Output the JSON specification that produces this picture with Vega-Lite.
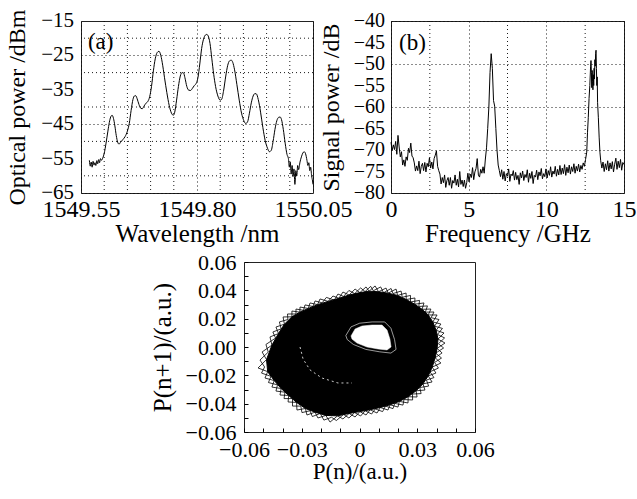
{
"$schema": "https://vega.github.io/schema/vega-lite/v6.json",
"background": "white",
"padding": {"left": 4, "top": 8, "right": 0, "bottom": 0},
"config": {
 "font": "Liberation Serif",
 "view": {"stroke": "#222", "strokeWidth": 1},
 "axis": {"labelFont": "Liberation Serif", "titleFont": "Liberation Serif", "labelColor": "#000", "titleColor": "#000", "titleFontWeight": "normal", "domain": false, "ticks": false, "gridColor": "#000", "gridDash": [1, 3], "gridWidth": 1, "gridOpacity": 0.9, "labelOverlap": false, "labelFlush": false}
},
"datasets": {
 "grid_a_x": [{"g":1549.6},{"g":1549.65},{"g":1549.7},{"g":1549.75},{"g":1549.85},{"g":1549.9},{"g":1549.95},{"g":1550.0}],
 "grid_a_y": [{"g":-60},{"g":-50},{"g":-40},{"g":-30},{"g":-20}],
 "grid_b_x": [{"g":2.5},{"g":7.5},{"g":12.5}],
 "ylab_a": [{"v":-65,"t":"−65"},{"v":-55,"t":"−55"},{"v":-45,"t":"−45"},{"v":-35,"t":"−35"},{"v":-25,"t":"−25"},{"v":-15,"t":"−15"}],
 "ylab_b": [{"v":-80,"t":"−80"},{"v":-75,"t":"−75"},{"v":-70,"t":"−70"},{"v":-65,"t":"−65"},{"v":-60,"t":"−60"},{"v":-55,"t":"−55"},{"v":-50,"t":"−50"},{"v":-45,"t":"−45"},{"v":-40,"t":"−40"}],
 "spec_a": [
  {"wl":1549.568,"p":-55.5},{"wl":1549.570,"p":-57.2},{"wl":1549.572,"p":-56.0},{"wl":1549.574,"p":-57.5},{"wl":1549.576,"p":-55.8},{"wl":1549.578,"p":-56.9},{"wl":1549.580,"p":-56.2},{"wl":1549.582,"p":-57.0},{"wl":1549.584,"p":-55.6},{"wl":1549.586,"p":-56.5},{"wl":1549.588,"p":-55.3},{"wl":1549.590,"p":-56.2},{"wl":1549.592,"p":-55.0},{"wl":1549.594,"p":-55.5},{"wl":1549.597,"p":-54.8},{"wl":1549.600,"p":-53.5},{"wl":1549.604,"p":-50.5},{"wl":1549.608,"p":-47.0},{"wl":1549.611,"p":-44.5},{"wl":1549.614,"p":-42.9},{"wl":1549.617,"p":-42.4},{"wl":1549.620,"p":-43.3},{"wl":1549.623,"p":-45.5},{"wl":1549.626,"p":-48.3},{"wl":1549.629,"p":-50.2},{"wl":1549.632,"p":-50.8},{"wl":1549.635,"p":-50.3},{"wl":1549.640,"p":-49.5},{"wl":1549.645,"p":-48.6},{"wl":1549.650,"p":-47.0},{"wl":1549.654,"p":-44.8},{"wl":1549.658,"p":-41.0},{"wl":1549.662,"p":-37.8},{"wl":1549.665,"p":-36.8},{"wl":1549.668,"p":-36.7},{"wl":1549.671,"p":-37.6},{"wl":1549.675,"p":-39.3},{"wl":1549.679,"p":-40.4},{"wl":1549.682,"p":-40.5},{"wl":1549.686,"p":-39.7},{"wl":1549.690,"p":-38.9},{"wl":1549.694,"p":-38.4},{"wl":1549.698,"p":-37.0},{"wl":1549.702,"p":-34.0},{"wl":1549.706,"p":-29.5},{"wl":1549.710,"p":-26.0},{"wl":1549.714,"p":-24.2},{"wl":1549.718,"p":-23.8},{"wl":1549.721,"p":-24.5},{"wl":1549.725,"p":-27.0},{"wl":1549.730,"p":-31.5},{"wl":1549.735,"p":-35.8},{"wl":1549.740,"p":-39.5},{"wl":1549.745,"p":-41.8},{"wl":1549.749,"p":-42.4},{"wl":1549.752,"p":-41.5},{"wl":1549.756,"p":-38.0},{"wl":1549.760,"p":-34.0},{"wl":1549.764,"p":-31.0},{"wl":1549.768,"p":-30.0},{"wl":1549.771,"p":-30.1},{"wl":1549.774,"p":-31.5},{"wl":1549.778,"p":-34.0},{"wl":1549.782,"p":-35.1},{"wl":1549.786,"p":-35.2},{"wl":1549.790,"p":-34.6},{"wl":1549.794,"p":-33.8},{"wl":1549.798,"p":-33.2},{"wl":1549.802,"p":-31.5},{"wl":1549.806,"p":-27.5},{"wl":1549.810,"p":-23.0},{"wl":1549.814,"p":-20.3},{"wl":1549.818,"p":-19.1},{"wl":1549.821,"p":-18.9},{"wl":1549.824,"p":-19.3},{"wl":1549.828,"p":-21.5},{"wl":1549.832,"p":-26.0},{"wl":1549.836,"p":-30.5},{"wl":1549.840,"p":-34.0},{"wl":1549.845,"p":-36.8},{"wl":1549.850,"p":-38.0},{"wl":1549.853,"p":-37.8},{"wl":1549.857,"p":-35.5},{"wl":1549.862,"p":-31.0},{"wl":1549.866,"p":-28.0},{"wl":1549.870,"p":-26.6},{"wl":1549.874,"p":-26.4},{"wl":1549.877,"p":-27.0},{"wl":1549.881,"p":-29.2},{"wl":1549.886,"p":-33.5},{"wl":1549.891,"p":-38.0},{"wl":1549.896,"p":-41.8},{"wl":1549.901,"p":-44.0},{"wl":1549.905,"p":-44.8},{"wl":1549.909,"p":-44.3},{"wl":1549.913,"p":-41.8},{"wl":1549.917,"p":-38.8},{"wl":1549.921,"p":-36.8},{"wl":1549.925,"p":-36.1},{"wl":1549.928,"p":-36.2},{"wl":1549.932,"p":-37.8},{"wl":1549.937,"p":-41.5},{"wl":1549.942,"p":-46.0},{"wl":1549.947,"p":-49.8},{"wl":1549.952,"p":-52.0},{"wl":1549.956,"p":-53.0},{"wl":1549.960,"p":-52.6},{"wl":1549.964,"p":-50.0},{"wl":1549.968,"p":-46.5},{"wl":1549.972,"p":-44.0},{"wl":1549.976,"p":-43.0},{"wl":1549.979,"p":-42.9},{"wl":1549.982,"p":-43.6},{"wl":1549.986,"p":-46.5},{"wl":1549.990,"p":-50.5},{"wl":1549.994,"p":-53.8},{"wl":1549.997,"p":-55.0},{"wl":1549.999,"p":-57.5},{"wl":1550.001,"p":-56.0},{"wl":1550.003,"p":-59.5},{"wl":1550.005,"p":-57.0},{"wl":1550.007,"p":-60.2},{"wl":1550.009,"p":-58.0},{"wl":1550.011,"p":-62.5},{"wl":1550.013,"p":-58.5},{"wl":1550.015,"p":-60.0},{"wl":1550.017,"p":-57.0},{"wl":1550.019,"p":-58.2},{"wl":1550.022,"p":-56.0},{"wl":1550.025,"p":-54.5},{"wl":1550.028,"p":-53.4},{"wl":1550.031,"p":-53.0},{"wl":1550.034,"p":-53.6},{"wl":1550.037,"p":-55.5},{"wl":1550.039,"p":-57.0},{"wl":1550.041,"p":-56.2},{"wl":1550.043,"p":-58.5},{"wl":1550.045,"p":-57.5},{"wl":1550.047,"p":-60.0},{"wl":1550.049,"p":-61.5},{"wl":1550.050,"p":-62.5}
 ],
 "spec_b": [
  {"f":0.000,"p":-68.2},{"f":0.075,"p":-70.1},{"f":0.150,"p":-68.8},{"f":0.225,"p":-69.9},{"f":0.300,"p":-68.0},{"f":0.375,"p":-71.0},{"f":0.450,"p":-66.6},{"f":0.525,"p":-69.3},{"f":0.600,"p":-71.6},{"f":0.675,"p":-70.4},{"f":0.750,"p":-73.5},{"f":0.825,"p":-72.3},{"f":0.900,"p":-73.8},{"f":0.975,"p":-71.6},{"f":1.050,"p":-72.4},{"f":1.125,"p":-69.6},{"f":1.200,"p":-70.6},{"f":1.275,"p":-68.4},{"f":1.350,"p":-71.4},{"f":1.425,"p":-71.8},{"f":1.500,"p":-73.0},{"f":1.575,"p":-74.9},{"f":1.650,"p":-73.7},{"f":1.725,"p":-74.8},{"f":1.800,"p":-72.6},{"f":1.875,"p":-75.5},{"f":1.950,"p":-73.8},{"f":2.025,"p":-73.1},{"f":2.100,"p":-74.8},{"f":2.175,"p":-72.9},{"f":2.250,"p":-75.1},{"f":2.325,"p":-73.1},{"f":2.400,"p":-73.9},{"f":2.475,"p":-71.8},{"f":2.550,"p":-74.2},{"f":2.625,"p":-72.8},{"f":2.700,"p":-74.4},{"f":2.775,"p":-72.0},{"f":2.850,"p":-71.2},{"f":2.925,"p":-70.2},{"f":3.000,"p":-73.8},{"f":3.075,"p":-74.8},{"f":3.150,"p":-75.6},{"f":3.225,"p":-77.9},{"f":3.300,"p":-76.4},{"f":3.375,"p":-77.6},{"f":3.450,"p":-75.8},{"f":3.525,"p":-78.7},{"f":3.600,"p":-77.1},{"f":3.675,"p":-76.4},{"f":3.750,"p":-78.2},{"f":3.825,"p":-76.4},{"f":3.900,"p":-78.9},{"f":3.975,"p":-77.1},{"f":4.050,"p":-77.7},{"f":4.125,"p":-75.8},{"f":4.200,"p":-78.2},{"f":4.275,"p":-76.8},{"f":4.350,"p":-78.6},{"f":4.425,"p":-75.0},{"f":4.500,"p":-78.0},{"f":4.575,"p":-77.0},{"f":4.650,"p":-78.5},{"f":4.725,"p":-77.0},{"f":4.800,"p":-78.9},{"f":4.875,"p":-77.6},{"f":4.950,"p":-75.4},{"f":5.025,"p":-77.4},{"f":5.100,"p":-75.6},{"f":5.175,"p":-76.4},{"f":5.250,"p":-74.1},{"f":5.325,"p":-76.9},{"f":5.400,"p":-75.1},{"f":5.475,"p":-74.3},{"f":5.550,"p":-72.0},{"f":5.625,"p":-75.8},{"f":5.700,"p":-76.3},{"f":5.775,"p":-74.5},{"f":5.850,"p":-75.4},{"f":5.925,"p":-73.9},{"f":6.000,"p":-75.4},{"f":6.075,"p":-72.1},{"f":6.150,"p":-69.5},{"f":6.225,"p":-65.0},{"f":6.300,"p":-60.0},{"f":6.375,"p":-52.0},{"f":6.450,"p":-47.6},{"f":6.525,"p":-51.0},{"f":6.600,"p":-58.5},{"f":6.675,"p":-59.8},{"f":6.750,"p":-65.0},{"f":6.825,"p":-70.0},{"f":6.900,"p":-73.5},{"f":6.975,"p":-74.8},{"f":7.050,"p":-76.2},{"f":7.125,"p":-74.6},{"f":7.200,"p":-76.8},{"f":7.275,"p":-75.0},{"f":7.350,"p":-77.2},{"f":7.425,"p":-75.5},{"f":7.500,"p":-76.1},{"f":7.575,"p":-74.4},{"f":7.650,"p":-77.3},{"f":7.725,"p":-75.6},{"f":7.800,"p":-76.0},{"f":7.875,"p":-74.8},{"f":7.950,"p":-77.0},{"f":8.025,"p":-75.2},{"f":8.100,"p":-76.9},{"f":8.175,"p":-75.9},{"f":8.250,"p":-78.0},{"f":8.325,"p":-75.3},{"f":8.400,"p":-76.5},{"f":8.475,"p":-74.9},{"f":8.550,"p":-77.1},{"f":8.625,"p":-75.7},{"f":8.700,"p":-76.4},{"f":8.775,"p":-74.6},{"f":8.850,"p":-77.5},{"f":8.925,"p":-75.4},{"f":9.000,"p":-76.6},{"f":9.075,"p":-75.0},{"f":9.150,"p":-77.8},{"f":9.225,"p":-75.9},{"f":9.300,"p":-76.3},{"f":9.375,"p":-74.7},{"f":9.450,"p":-76.9},{"f":9.525,"p":-75.1},{"f":9.600,"p":-76.0},{"f":9.675,"p":-74.3},{"f":9.750,"p":-76.7},{"f":9.825,"p":-75.5},{"f":9.900,"p":-76.2},{"f":9.975,"p":-74.4},{"f":10.050,"p":-76.5},{"f":10.125,"p":-74.8},{"f":10.200,"p":-75.9},{"f":10.275,"p":-73.9},{"f":10.350,"p":-76.3},{"f":10.425,"p":-74.9},{"f":10.500,"p":-75.6},{"f":10.575,"p":-73.8},{"f":10.650,"p":-76.1},{"f":10.725,"p":-74.5},{"f":10.800,"p":-75.8},{"f":10.875,"p":-73.6},{"f":10.950,"p":-75.7},{"f":11.025,"p":-74.2},{"f":11.100,"p":-75.5},{"f":11.175,"p":-73.4},{"f":11.250,"p":-75.9},{"f":11.325,"p":-74.0},{"f":11.400,"p":-75.3},{"f":11.475,"p":-73.5},{"f":11.550,"p":-75.6},{"f":11.625,"p":-73.9},{"f":11.700,"p":-75.0},{"f":11.775,"p":-73.2},{"f":11.850,"p":-75.4},{"f":11.925,"p":-73.8},{"f":12.000,"p":-74.9},{"f":12.075,"p":-73.3},{"f":12.150,"p":-75.1},{"f":12.225,"p":-73.6},{"f":12.300,"p":-74.5},{"f":12.375,"p":-73.0},{"f":12.450,"p":-73.8},{"f":12.525,"p":-72.2},{"f":12.600,"p":-70.5},{"f":12.650,"p":-66.0},{"f":12.700,"p":-62.5},{"f":12.750,"p":-58.0},{"f":12.800,"p":-55.0},{"f":12.850,"p":-50.5},{"f":12.875,"p":-49.2},{"f":12.900,"p":-52.0},{"f":12.925,"p":-55.5},{"f":12.950,"p":-51.5},{"f":12.975,"p":-54.0},{"f":13.000,"p":-56.0},{"f":13.025,"p":-52.5},{"f":13.050,"p":-55.0},{"f":13.075,"p":-51.0},{"f":13.100,"p":-53.5},{"f":13.125,"p":-49.0},{"f":13.150,"p":-50.5},{"f":13.175,"p":-47.5},{"f":13.200,"p":-46.8},{"f":13.225,"p":-51.0},{"f":13.250,"p":-55.0},{"f":13.275,"p":-53.0},{"f":13.300,"p":-59.0},{"f":13.350,"p":-62.5},{"f":13.400,"p":-67.0},{"f":13.450,"p":-70.5},{"f":13.500,"p":-72.5},{"f":13.575,"p":-74.2},{"f":13.650,"p":-72.8},{"f":13.725,"p":-75.0},{"f":13.800,"p":-73.2},{"f":13.875,"p":-74.6},{"f":13.950,"p":-72.5},{"f":14.025,"p":-74.9},{"f":14.100,"p":-73.0},{"f":14.175,"p":-74.4},{"f":14.250,"p":-72.7},{"f":14.325,"p":-75.1},{"f":14.400,"p":-73.3},{"f":14.475,"p":-71.9},{"f":14.550,"p":-74.5},{"f":14.625,"p":-72.6},{"f":14.700,"p":-74.1},{"f":14.775,"p":-72.2},{"f":14.850,"p":-74.7},{"f":14.925,"p":-72.9},{"f":15.000,"p":-73.4}
 ],
 "core": [
  {"k":1,"x":-0.0483,"y":-0.0089},{"k":2,"x":-0.0455,"y":0.0013},{"k":3,"x":-0.0421,"y":0.0095},{"k":4,"x":-0.0390,"y":0.0161},{"k":5,"x":-0.0351,"y":0.0213},{"k":6,"x":-0.0310,"y":0.0246},{"k":7,"x":-0.0266,"y":0.0272},{"k":8,"x":-0.0218,"y":0.0299},{"k":9,"x":-0.0163,"y":0.0322},{"k":10,"x":-0.0107,"y":0.0344},{"k":11,"x":-0.0054,"y":0.0367},{"k":12,"x":0.0002,"y":0.0384},{"k":13,"x":0.0050,"y":0.0394},{"k":14,"x":0.0099,"y":0.0390},{"k":15,"x":0.0149,"y":0.0380},{"k":16,"x":0.0198,"y":0.0364},{"k":17,"x":0.0243,"y":0.0335},{"k":18,"x":0.0287,"y":0.0302},{"k":19,"x":0.0325,"y":0.0266},{"k":20,"x":0.0357,"y":0.0226},{"k":21,"x":0.0381,"y":0.0177},{"k":22,"x":0.0398,"y":0.0118},{"k":23,"x":0.0408,"y":0.0056},{"k":24,"x":0.0403,"y":-0.0010},{"k":25,"x":0.0393,"y":-0.0076},{"k":26,"x":0.0378,"y":-0.0142},{"k":27,"x":0.0357,"y":-0.0204},{"k":28,"x":0.0330,"y":-0.0260},{"k":29,"x":0.0294,"y":-0.0309},{"k":30,"x":0.0253,"y":-0.0351},{"k":31,"x":0.0207,"y":-0.0384},{"k":32,"x":0.0159,"y":-0.0408},{"k":33,"x":0.0108,"y":-0.0427},{"k":34,"x":0.0055,"y":-0.0443},{"k":35,"x":0.0002,"y":-0.0456},{"k":36,"x":-0.0054,"y":-0.0469},{"k":37,"x":-0.0114,"y":-0.0486},{"k":38,"x":-0.0175,"y":-0.0483},{"k":39,"x":-0.0231,"y":-0.0460},{"k":40,"x":-0.0281,"y":-0.0434},{"k":41,"x":-0.0327,"y":-0.0391},{"k":42,"x":-0.0368,"y":-0.0342},{"k":43,"x":-0.0407,"y":-0.0293},{"k":44,"x":-0.0443,"y":-0.0237},{"k":45,"x":-0.0477,"y":-0.0174}
 ],
 "zig": [
  {"k":0,"x":-0.0527,"y":-0.0148},{"k":1,"x":-0.0483,"y":-0.0089},{"k":2,"x":-0.0506,"y":-0.0035},{"k":3,"x":-0.0455,"y":0.0013},{"k":4,"x":-0.0465,"y":0.0071},{"k":5,"x":-0.0421,"y":0.0095},{"k":6,"x":-0.0434,"y":0.0141},{"k":7,"x":-0.0390,"y":0.0161},{"k":8,"x":-0.0397,"y":0.0212},{"k":9,"x":-0.0351,"y":0.0213},{"k":10,"x":-0.0351,"y":0.0254},{"k":11,"x":-0.0310,"y":0.0246},{"k":12,"x":-0.0309,"y":0.0282},{"k":13,"x":-0.0266,"y":0.0272},{"k":14,"x":-0.0257,"y":0.0311},{"k":15,"x":-0.0218,"y":0.0299},{"k":16,"x":-0.0205,"y":0.0339},{"k":17,"x":-0.0163,"y":0.0322},{"k":18,"x":-0.0138,"y":0.0360},{"k":19,"x":-0.0107,"y":0.0344},{"k":20,"x":-0.0086,"y":0.0388},{"k":21,"x":-0.0054,"y":0.0367},{"k":22,"x":-0.0023,"y":0.0409},{"k":23,"x":0.0002,"y":0.0384},{"k":24,"x":0.0034,"y":0.0424},{"k":25,"x":0.0050,"y":0.0394},{"k":26,"x":0.0081,"y":0.0431},{"k":27,"x":0.0099,"y":0.0390},{"k":28,"x":0.0138,"y":0.0416},{"k":29,"x":0.0149,"y":0.0380},{"k":30,"x":0.0190,"y":0.0409},{"k":31,"x":0.0198,"y":0.0364},{"k":32,"x":0.0242,"y":0.0381},{"k":33,"x":0.0243,"y":0.0335},{"k":34,"x":0.0288,"y":0.0346},{"k":35,"x":0.0287,"y":0.0302},{"k":36,"x":0.0335,"y":0.0311},{"k":37,"x":0.0325,"y":0.0266},{"k":38,"x":0.0371,"y":0.0268},{"k":39,"x":0.0357,"y":0.0226},{"k":40,"x":0.0403,"y":0.0226},{"k":41,"x":0.0381,"y":0.0177},{"k":42,"x":0.0423,"y":0.0162},{"k":43,"x":0.0398,"y":0.0118},{"k":44,"x":0.0439,"y":0.0099},{"k":45,"x":0.0408,"y":0.0056},{"k":46,"x":0.0444,"y":0.0028},{"k":47,"x":0.0403,"y":-0.0010},{"k":48,"x":0.0429,"y":-0.0042},{"k":49,"x":0.0393,"y":-0.0076},{"k":50,"x":0.0423,"y":-0.0113},{"k":51,"x":0.0378,"y":-0.0142},{"k":52,"x":0.0397,"y":-0.0184},{"k":53,"x":0.0357,"y":-0.0204},{"k":54,"x":0.0377,"y":-0.0247},{"k":55,"x":0.0330,"y":-0.0260},{"k":56,"x":0.0340,"y":-0.0304},{"k":57,"x":0.0294,"y":-0.0309},{"k":58,"x":0.0299,"y":-0.0353},{"k":59,"x":0.0253,"y":-0.0351},{"k":60,"x":0.0252,"y":-0.0395},{"k":61,"x":0.0207,"y":-0.0384},{"k":62,"x":0.0200,"y":-0.0424},{"k":63,"x":0.0159,"y":-0.0408},{"k":64,"x":0.0148,"y":-0.0445},{"k":65,"x":0.0108,"y":-0.0427},{"k":66,"x":0.0091,"y":-0.0466},{"k":67,"x":0.0055,"y":-0.0443},{"k":68,"x":0.0034,"y":-0.0480},{"k":69,"x":0.0002,"y":-0.0456},{"k":70,"x":-0.0023,"y":-0.0494},{"k":71,"x":-0.0054,"y":-0.0469},{"k":72,"x":-0.0086,"y":-0.0508},{"k":73,"x":-0.0114,"y":-0.0486},{"k":74,"x":-0.0153,"y":-0.0530},{"k":75,"x":-0.0175,"y":-0.0483},{"k":76,"x":-0.0216,"y":-0.0501},{"k":77,"x":-0.0231,"y":-0.0460},{"k":78,"x":-0.0273,"y":-0.0480},{"k":79,"x":-0.0281,"y":-0.0434},{"k":80,"x":-0.0325,"y":-0.0445},{"k":81,"x":-0.0327,"y":-0.0391},{"k":82,"x":-0.0371,"y":-0.0388},{"k":83,"x":-0.0368,"y":-0.0342},{"k":84,"x":-0.0413,"y":-0.0339},{"k":85,"x":-0.0407,"y":-0.0293},{"k":86,"x":-0.0455,"y":-0.0283},{"k":87,"x":-0.0443,"y":-0.0237},{"k":88,"x":-0.0491,"y":-0.0219},{"k":89,"x":-0.0477,"y":-0.0174},{"k":90,"x":-0.0527,"y":-0.0148}
 ],
 "zig2": [
  {"k":0,"x":-0.0517,"y":-0.0092},{"k":1,"x":-0.0474,"y":-0.0036},{"k":2,"x":-0.0486,"y":0.0018},{"k":3,"x":-0.0436,"y":0.0063},{"k":4,"x":-0.0450,"y":0.0106},{"k":5,"x":-0.0407,"y":0.0128},{"k":6,"x":-0.0416,"y":0.0177},{"k":7,"x":-0.0372,"y":0.0194},{"k":8,"x":-0.0374,"y":0.0233},{"k":9,"x":-0.0330,"y":0.0233},{"k":10,"x":-0.0330,"y":0.0268},{"k":11,"x":-0.0291,"y":0.0259},{"k":12,"x":-0.0283,"y":0.0297},{"k":13,"x":-0.0242,"y":0.0286},{"k":14,"x":-0.0231,"y":0.0325},{"k":15,"x":-0.0194,"y":0.0312},{"k":16,"x":-0.0172,"y":0.0350},{"k":17,"x":-0.0131,"y":0.0331},{"k":18,"x":-0.0112,"y":0.0374},{"k":19,"x":-0.0083,"y":0.0357},{"k":20,"x":-0.0055,"y":0.0399},{"k":21,"x":-0.0025,"y":0.0377},{"k":22,"x":0.0006,"y":0.0417},{"k":23,"x":0.0029,"y":0.0391},{"k":24,"x":0.0058,"y":0.0428},{"k":25,"x":0.0072,"y":0.0397},{"k":26,"x":0.0110,"y":0.0424},{"k":27,"x":0.0125,"y":0.0383},{"k":28,"x":0.0164,"y":0.0413},{"k":29,"x":0.0174,"y":0.0377},{"k":30,"x":0.0216,"y":0.0395},{"k":31,"x":0.0222,"y":0.0351},{"k":32,"x":0.0265,"y":0.0364},{"k":33,"x":0.0265,"y":0.0318},{"k":34,"x":0.0312,"y":0.0329},{"k":35,"x":0.0308,"y":0.0286},{"k":36,"x":0.0353,"y":0.0290},{"k":37,"x":0.0342,"y":0.0246},{"k":38,"x":0.0387,"y":0.0247},{"k":39,"x":0.0372,"y":0.0207},{"k":40,"x":0.0413,"y":0.0194},{"k":41,"x":0.0390,"y":0.0147},{"k":42,"x":0.0431,"y":0.0131},{"k":43,"x":0.0405,"y":0.0089},{"k":44,"x":0.0442,"y":0.0064},{"k":45,"x":0.0410,"y":0.0023},{"k":46,"x":0.0437,"y":-0.0007},{"k":47,"x":0.0396,"y":-0.0043},{"k":48,"x":0.0426,"y":-0.0078},{"k":49,"x":0.0390,"y":-0.0109},{"k":50,"x":0.0410,"y":-0.0149},{"k":51,"x":0.0366,"y":-0.0175},{"k":52,"x":0.0387,"y":-0.0216},{"k":53,"x":0.0348,"y":-0.0233},{"k":54,"x":0.0359,"y":-0.0276},{"k":55,"x":0.0313,"y":-0.0286},{"k":56,"x":0.0320,"y":-0.0329},{"k":57,"x":0.0275,"y":-0.0332},{"k":58,"x":0.0276,"y":-0.0374},{"k":59,"x":0.0231,"y":-0.0371},{"k":60,"x":0.0226,"y":-0.0410},{"k":61,"x":0.0183,"y":-0.0398},{"k":62,"x":0.0174,"y":-0.0435},{"k":63,"x":0.0135,"y":-0.0417},{"k":64,"x":0.0120,"y":-0.0456},{"k":65,"x":0.0082,"y":-0.0437},{"k":66,"x":0.0063,"y":-0.0473},{"k":67,"x":0.0029,"y":-0.0450},{"k":68,"x":0.0006,"y":-0.0487},{"k":69,"x":-0.0025,"y":-0.0463},{"k":70,"x":-0.0055,"y":-0.0501},{"k":71,"x":-0.0083,"y":-0.0476},{"k":72,"x":-0.0120,"y":-0.0519},{"k":73,"x":-0.0145,"y":-0.0496},{"k":74,"x":-0.0185,"y":-0.0516},{"k":75,"x":-0.0204,"y":-0.0469},{"k":76,"x":-0.0245,"y":-0.0491},{"k":77,"x":-0.0257,"y":-0.0450},{"k":78,"x":-0.0299,"y":-0.0463},{"k":79,"x":-0.0305,"y":-0.0417},{"k":80,"x":-0.0348,"y":-0.0417},{"k":81,"x":-0.0348,"y":-0.0364},{"k":82,"x":-0.0392,"y":-0.0364},{"k":83,"x":-0.0387,"y":-0.0319},{"k":84,"x":-0.0434,"y":-0.0311},{"k":85,"x":-0.0426,"y":-0.0267},{"k":86,"x":-0.0473,"y":-0.0251},{"k":87,"x":-0.0460,"y":-0.0207},{"k":88,"x":-0.0509,"y":-0.0184},{"k":89,"x":-0.0493,"y":-0.0141},{"k":90,"x":-0.0517,"y":-0.0092}
 ],
 "hole": [
  {"k":1,"x":-0.0044,"y":0.0078},{"k":2,"x":-0.0023,"y":0.0127},{"k":3,"x":0.0013,"y":0.0148},{"k":4,"x":0.0065,"y":0.0155},{"k":5,"x":0.0117,"y":0.0155},{"k":6,"x":0.0143,"y":0.0120},{"k":7,"x":0.0158,"y":0.0056},{"k":8,"x":0.0164,"y":0.0000},{"k":9,"x":0.0143,"y":-0.0021},{"k":10,"x":0.0096,"y":-0.0014},{"k":11,"x":0.0039,"y":0.0000},{"k":12,"x":-0.0013,"y":0.0028},{"k":13,"x":-0.0039,"y":0.0056}
 ],
 "ring": [
  {"k":1,"x":-0.0071,"y":0.0081},{"k":2,"x":-0.0044,"y":0.0142},{"k":3,"x":0.0001,"y":0.0168},{"k":4,"x":0.0066,"y":0.0177},{"k":5,"x":0.0131,"y":0.0177},{"k":6,"x":0.0163,"y":0.0133},{"k":7,"x":0.0182,"y":0.0053},{"k":8,"x":0.0190,"y":-0.0017},{"k":9,"x":0.0163,"y":-0.0043},{"k":10,"x":0.0105,"y":-0.0034},{"k":11,"x":0.0033,"y":-0.0017},{"k":12,"x":-0.0032,"y":0.0018},{"k":13,"x":-0.0064,"y":0.0053}
 ],
 "arc": [
  {"k":1,"x":-0.0309,"y":0.0000},{"k":2,"x":-0.0293,"y":-0.0085},{"k":3,"x":-0.0257,"y":-0.0162},{"k":4,"x":-0.0195,"y":-0.0219},{"k":5,"x":-0.0112,"y":-0.0254},{"k":6,"x":-0.0039,"y":-0.0254}
 ]
},
"spacing": 3,
"vconcat": [
 {
  "spacing": 78,
  "bounds": "flush",
  "hconcat": [
   {
    "width": 232, "height": 172,
    "layer": [
     {
      "data": {"name": "grid_a_x"},
      "mark": {"type": "rule", "color": "#000", "strokeWidth": 1, "strokeDash": [1, 3], "opacity": 0.9},
      "encoding": {"x": {"field": "g", "type": "quantitative"}}
     },
     {
      "data": {"name": "grid_a_y"},
      "mark": {"type": "rule", "color": "#000", "strokeWidth": 1, "strokeDash": [1, 3], "opacity": 0.9},
      "encoding": {"y": {"field": "g", "type": "quantitative"}}
     },
     {
      "data": {"name": "spec_a"},
      "mark": {"type": "line", "color": "#000", "strokeWidth": 1, "interpolate": "monotone"},
      "encoding": {
       "x": {"field": "wl", "type": "quantitative", "scale": {"domain": [1549.55, 1550.05], "nice": false, "zero": false},
        "axis": {"title": "Wavelength /nm", "values": [1549.55, 1549.8, 1550.05], "format": ".2f", "grid": true, "labelOverlap": false, "labelFontSize": 24, "titleFontSize": 25, "labelPadding": 4, "titlePadding": 0}},
       "y": {"field": "p", "type": "quantitative", "scale": {"domain": [-65, -15], "nice": false, "zero": false},
        "axis": {"title": "Optical power /dBm", "values": [-65, -55, -45, -35, -25, -15], "grid": true, "labels": false, "titleFontSize": 24, "titlePadding": 52}}
      }
     },
     {
      "data": {"name": "ylab_a"},
      "mark": {"type": "text", "align": "right", "baseline": "middle", "dx": -7, "fontSize": 21, "font": "Liberation Serif", "color": "#000"},
      "encoding": {"x": {"datum": 1549.55, "type": "quantitative"}, "y": {"field": "v", "type": "quantitative"}, "text": {"field": "t"}}
     },
     {
      "data": {"values": [{"lab": "(a)"}]},
      "mark": {"type": "text", "align": "left", "baseline": "middle", "fontSize": 23, "font": "Liberation Serif", "color": "#000"},
      "encoding": {"x": {"datum": 1549.565, "type": "quantitative"}, "y": {"datum": -21, "type": "quantitative"}, "text": {"field": "lab"}}
     }
    ]
   },
   {
    "width": 233, "height": 172,
    "layer": [
     {
      "data": {"name": "grid_b_x"},
      "mark": {"type": "rule", "color": "#000", "strokeWidth": 1, "strokeDash": [1, 3], "opacity": 0.9},
      "encoding": {"x": {"field": "g", "type": "quantitative"}}
     },
     {
      "data": {"name": "spec_b"},
      "mark": {"type": "line", "color": "#000", "strokeWidth": 1},
      "encoding": {
       "x": {"field": "f", "type": "quantitative", "scale": {"domain": [0, 15], "nice": false, "zero": false},
        "axis": {"title": "Frequency /GHz", "values": [0, 5, 10, 15], "grid": true, "labelOverlap": false, "labelFontSize": 24, "titleFontSize": 25, "labelPadding": 4, "titlePadding": 0}},
       "y": {"field": "p", "type": "quantitative", "scale": {"domain": [-80, -40], "nice": false, "zero": false},
        "axis": {"title": "Signal power /dB", "values": [-80,-75,-70,-65,-60,-55,-50,-45,-40], "grid": true, "labels": false, "titleFontSize": 24, "titlePadding": 48}}
      }
     },
     {
      "data": {"name": "ylab_b"},
      "mark": {"type": "text", "align": "right", "baseline": "middle", "dx": -6, "fontSize": 20, "font": "Liberation Serif", "color": "#000"},
      "encoding": {"x": {"datum": 0, "type": "quantitative"}, "y": {"field": "v", "type": "quantitative"}, "text": {"field": "t"}}
     },
     {
      "data": {"values": [{"lab": "(b)"}]},
      "mark": {"type": "text", "align": "left", "baseline": "middle", "fontSize": 23, "font": "Liberation Serif", "color": "#000"},
      "encoding": {"x": {"datum": 0.52, "type": "quantitative"}, "y": {"datum": -45.1, "type": "quantitative"}, "text": {"field": "lab"}}
     }
    ]
   }
  ]
 },
 {
  "spacing": 0,
  "hconcat": [
   {
    "width": 68, "height": 10,
    "view": {"stroke": null},
    "data": {"values": []},
    "mark": "point"
   },
   {
    "width": 231, "height": 170,
    "encoding": {
     "x": {"field": "x", "type": "quantitative", "scale": {"domain": [-0.06, 0.06], "nice": false, "zero": false},
      "axis": {"title": "P(n)/(a.u.)", "values": [-0.06,-0.05,-0.04,-0.03,-0.02,-0.01,0,0.01,0.02,0.03,0.04,0.05,0.06], "labelExpr": "abs(round(datum.value*100)) % 3 == 0 ? (datum.value == 0 ? '0' : format(datum.value, '.2f')) : ''", "grid": false, "ticks": true, "tickSize": -4, "tickColor": "#000", "labelOverlap": false, "labelFontSize": 22, "titleFontSize": 23, "labelPadding": 11, "titlePadding": 0}},
     "y": {"field": "y", "type": "quantitative", "scale": {"domain": [-0.06, 0.06], "nice": false, "zero": false},
      "axis": {"title": "P(n+1)/(a.u.)", "values": [-0.06,-0.05,-0.04,-0.03,-0.02,-0.01,0,0.01,0.02,0.03,0.04,0.05,0.06], "labelExpr": "abs(round(datum.value*100)) % 2 == 0 ? format(datum.value, '.2f') : ''", "grid": false, "ticks": true, "tickSize": -4, "tickColor": "#000", "labelOverlap": false, "labelFontSize": 22, "titleFontSize": 25, "labelPadding": 12, "titlePadding": 10}},
     "order": {"field": "k", "type": "quantitative"}
    },
    "layer": [
     {"data": {"name": "core"}, "mark": {"type": "line", "interpolate": "linear-closed", "fill": "#000", "stroke": "#000", "strokeWidth": 1}},
     {"data": {"name": "zig"}, "mark": {"type": "line", "stroke": "#000", "strokeWidth": 0.8}},
     {"data": {"name": "zig2"}, "mark": {"type": "line", "stroke": "#000", "strokeWidth": 0.8}},
     {"data": {"name": "hole"}, "mark": {"type": "line", "interpolate": "linear-closed", "fill": "#fff", "stroke": "#fff", "strokeWidth": 0.5}},
     {"data": {"name": "ring"}, "mark": {"type": "line", "interpolate": "linear-closed", "stroke": "#fff", "strokeWidth": 0.6}},
     {"data": {"name": "arc"}, "mark": {"type": "line", "stroke": "#fff", "strokeWidth": 0.8, "strokeDash": [2, 3]}},
     {"data": {"values": [{"lab": "(c)"}]}, "mark": {"type": "text", "align": "left", "baseline": "middle", "fontSize": 23, "font": "Liberation Serif", "color": "#000"},
      "encoding": {"x": {"datum": -0.0553, "type": "quantitative"}, "y": {"datum": 0.0445, "type": "quantitative"}, "text": {"field": "lab"}, "order": null}}
    ]
   }
  ]
 }
]
}
